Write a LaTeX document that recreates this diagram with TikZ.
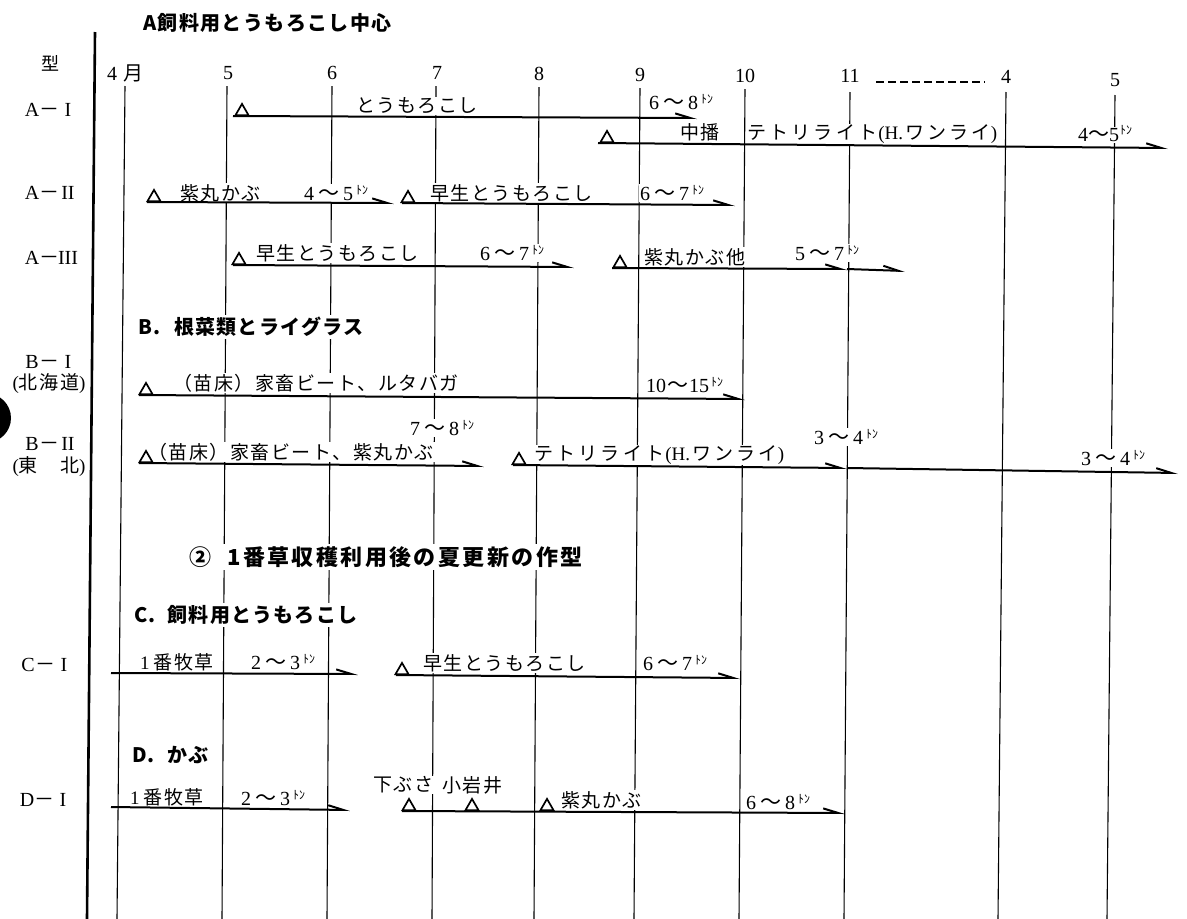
\documentclass[tikz,border=0pt]{standalone}
\usepackage{fontspec}
\setmainfont{Liberation Serif}
\newfontfamily\jp{Noto Sans CJK JP}[LetterSpace=8]
\newfontfamily\jpw{Noto Sans CJK JP}[LetterSpace=17]
\newfontfamily\jpn{Noto Sans CJK JP}
\newfontfamily\jphA{Noto Sans CJK JP}[LetterSpace=7]
\newfontfamily\jphB{Noto Sans CJK JP}[LetterSpace=6]
\newfontfamily\jphC{Noto Sans CJK JP}[LetterSpace=11]
\usetikzlibrary{arrows.meta,shapes.geometric}
\newcommand\ton{\raisebox{6pt}{\jpn\fontsize{12}{12}\selectfont ﾄﾝ}}
\newcommand\wave{{\jpn\fontsize{21}{21}\selectfont ～}}
\newcommand\rng[2]{#1\hspace{4pt}\wave\hspace{4pt}#2\hspace{3pt}\ton}
\newcommand\rlab[2]{\makebox[18pt]{#1}\makebox[18pt]{\jpn －}\makebox[18pt]{#2}}
\newcommand\tetri{{\jpw テトリライト}\hspace{1pt}(H.\hspace{2pt}{\jpw ワンライ})}
\begin{document}
\begin{tikzpicture}[x=1pt,y=-1pt,
 grid/.style={line width=1.1pt},
 axisl/.style={line width=2.6pt},
 crop/.style={line width=2pt,-{Straight Barb[left,length=15pt,width=9pt]}},
 tri/.style={draw,line width=1.7pt,regular polygon,regular polygon sides=3,minimum size=15pt,inner sep=0pt,anchor=south,fill=white},
 txt/.style={anchor=west,fill=white,inner sep=1pt,font=\jp\fontsize{19}{19}\selectfont},
 wtxt/.style={anchor=west,fill=white,inner sep=1pt,font=\fontsize{19}{19}\selectfont},
 num/.style={anchor=west,fill=white,inner sep=1pt,font=\fontsize{20}{20}\selectfont},
 mon/.style={fill=white,inner sep=1pt,font=\fontsize{20}{20}\selectfont},
 rowl/.style={inner sep=1pt,font=\fontsize{20}{20}\selectfont},
 headA/.style={anchor=west,fill=white,inner sep=2pt,font=\jphA\bfseries\fontsize{20}{20}\selectfont},
 headB/.style={anchor=west,fill=white,inner sep=2pt,font=\jphB\bfseries\fontsize{20}{20}\selectfont},
 headC/.style={anchor=west,fill=white,inner sep=2pt,font=\jphC\bfseries\fontsize{22}{22}\selectfont},
]
\fill[white] (0,0) rectangle (1187,919);
\useasboundingbox (0,0) rectangle (1187,919);
% punch hole
\begin{scope}
\clip (0,0) rectangle (1187,919);
\fill[black] (-13.6,418) circle[radius=24.6pt];
\end{scope}
% axis
\coordinate (axt) at (95,32); \coordinate (axb) at (87,919);
\draw[axisl] (axt) -- (axb);
% month lines
\foreach \n/\xt/\xb/\yt in {m4/125/117/86, m5/227/222/86, m6/332/327/86, m7/436/432/86, m8/539/534/87, m9/640/634/88, m10/745/739/89, m11/850/844/92, mA/1006/998/92, mB/1115/1107/95}{
  \coordinate (\n t) at (\xt,\yt); \coordinate (\n b) at (\xb,919);
  \draw[grid] (\n t) -- (\n b);
}
% title and header
\node[headA] (hA) at (141,23) {A飼料用とうもろこし中心};
\node[font=\jpn\fontsize{18}{18}\selectfont] (kata) at (50,63) {型};
\node[mon] (l4) at (125,73) {4\hspace{6pt}{\jpn 月}};
\node[mon] (l5) at (228,73) {5};
\node[mon] (l6) at (332,73) {6};
\node[mon] (l7) at (437,73) {7};
\node[mon] (l8) at (539,74) {8};
\node[mon] (l9) at (640,75) {9};
\node[mon] (l10) at (745,76) {10};
\node[mon] (l11) at (850,76) {11};
\node[mon] (l4b) at (1006,77) {4};
\node[mon] (l5b) at (1115,80) {5};
\coordinate (dL) at (876,82); \coordinate (dR) at (985,82);
\draw[line width=1.2pt,dash pattern=on 8pt off 4pt] (dL) -- (dR);
% row labels
\node[rowl] (rAI) at (50,110) {\rlab{A}{I}};
\node[rowl] (rAII) at (50,193) {\rlab{A}{II}};
\node[rowl] (rAIII) at (50,258) {\rlab{A}{III}};
\node[rowl] (rBI) at (50,362) {\rlab{B}{I}};
\node[rowl,font=\fontsize{19}{19}\selectfont] (rBIa) at (49,384) {({\jp 北海道})};
\node[rowl] (rBII) at (50,444) {\rlab{B}{II}};
\node[rowl,font=\fontsize{19}{19}\selectfont] (rBIIa) at (49,467) {({\jp 東　北})};
\node[rowl] (rCI) at (46,665) {\rlab{C}{I}};
\node[rowl] (rDI) at (45,800) {\rlab{D}{I}};
% A-I
\node[txt] (tA1) at (355,106) {とうもろこし};
\node[num] (tA1y) at (648,102) {\rng{6}{8}};
\node[txt] (tA1b) at (679,132) {中播};
\node[wtxt] (tA1c) at (746,134) {\tetri};
\node[num] (tA1d) at (1077,135) {4\wave5};
\node[num] (tA1e) at (1119,133) {\ton};
% A-II
\node[txt] (tA2a) at (179,193) {紫丸かぶ};
\node[num] (tA2b) at (303,193) {\rng{4}{5}};
\node[txt] (tA2c) at (429,193) {早生とうもろこし};
\node[num] (tA2d) at (639,193) {\rng{6}{7}};
% A-III
\node[txt] (tA3a) at (255,253) {早生とうもろこし};
\node[num] (tA3b) at (479,253) {\rng{6}{7}};
\node[txt] (tA3c) at (643,257) {紫丸かぶ他};
\node[num] (tA3d) at (794,253) {\rng{5}{7}};
% B
\node[headB] (hB) at (136,327) {B.\hspace{14pt}根菜類とライグラス};
\node[txt] (tB1a) at (172,383) {（苗床）家畜ビート、ルタバガ};
\node[num] (tB1b) at (645,385) {10\hspace{1pt}\wave\hspace{1pt}15\hspace{2pt}\ton};
\node[num] (tB2y) at (409,428) {\rng{7}{8}};
\node[txt] (tB2a) at (147,452) {（苗床）家畜ビート、紫丸かぶ};
\node[wtxt] (tB2b) at (533,455) {\tetri};
\node[num] (tB2c) at (813,437) {\rng{3}{4}};
\node[num] (tB2d) at (1080,458) {\rng{3}{4}};
% section 2
\node[headC] (h2) at (187,557) {②\hspace{16pt}1番草収穫利用後の夏更新の作型};
\node[headB] (hC) at (132,615) {C.\hspace{12pt}飼料用とうもろこし};
\node[txt] (tC1a) at (139,662) {{\rmfamily 1}\hspace{4pt}番牧草};
\node[num] (tC1b) at (250,662) {\rng{2}{3}};
\node[txt] (tC1c) at (422,663) {早生とうもろこし};
\node[num] (tC1d) at (642,663) {\rng{6}{7}};
\node[headB] (hD) at (130,755) {D.\hspace{12pt}かぶ};
\node[txt] (tD1a) at (129,797) {{\rmfamily 1}\hspace{4pt}番牧草};
\node[num] (tD1b) at (240,798) {\rng{2}{3}};
\node[txt] (tD1c) at (372,785) {下ぶさ};
\node[txt] (tD1d) at (441,785) {小岩井};
\node[txt] (tD1e) at (560,800) {紫丸かぶ};
\node[num] (tD1f) at (745,802) {\rng{6}{8}};
% arrows
\coordinate (a1s) at (233,116); \coordinate (a1e) at (697,118);
\draw[crop] (a1s) -- (a1e);
\coordinate (a2s) at (598,143); \coordinate (a2e) at (1168,148);
\draw[crop] (a2s) -- (a2e);
\coordinate (a3s) at (147,202); \coordinate (a3e) at (394,203);
\draw[crop] (a3s) -- (a3e);
\coordinate (a4s) at (402,203); \coordinate (a4e) at (735,205);
\draw[crop] (a4s) -- (a4e);
\coordinate (a5s) at (233,265); \coordinate (a5e) at (574,267);
\draw[crop] (a5s) -- (a5e);
\coordinate (a6s) at (612,268); \coordinate (a6m) at (847,269); \coordinate (a6e) at (905,271);
\draw[crop] (a6s) -- (a6m); \draw[crop] (a6m) -- (a6e);
\coordinate (b1s) at (139,395); \coordinate (b1e) at (745,399);
\draw[crop] (b1s) -- (b1e);
\coordinate (b2s) at (139,463); \coordinate (b2e) at (484,466);
\draw[crop] (b2s) -- (b2e);
\coordinate (b3s) at (513,465); \coordinate (b3m) at (847,468); \coordinate (b3e) at (1178,473);
\draw[crop] (b3s) -- (b3m); \draw[crop] (b3m) -- (b3e);
\coordinate (c1s) at (111,673); \coordinate (c1e) at (358,674);
\draw[crop] (c1s) -- (c1e);
\coordinate (c2s) at (396,675); \coordinate (c2e) at (740,678);
\draw[crop] (c2s) -- (c2e);
\coordinate (d1s) at (111,807); \coordinate (d1e) at (350,810);
\draw[crop] (d1s) -- (d1e);
\coordinate (d2s) at (402,811); \coordinate (d2e) at (845,813);
\draw[crop] (d2s) -- (d2e);
% sowing marks
\node[tri] (s1) at (242,116) {};
\node[tri] (s2) at (607,143) {};
\node[tri] (s3) at (154,202) {};
\node[tri] (s4) at (408,203) {};
\node[tri] (s5) at (239,265) {};
\node[tri] (s6) at (620,268) {};
\node[tri] (s7) at (146,395) {};
\node[tri] (s8) at (146,463) {};
\node[tri] (s9) at (519,465) {};
\node[tri] (s10) at (402,675) {};
\node[tri] (s11) at (409,811) {};
\node[tri] (s12) at (472,811) {};
\node[tri] (s13) at (547,811) {};
\end{tikzpicture}
\end{document}
